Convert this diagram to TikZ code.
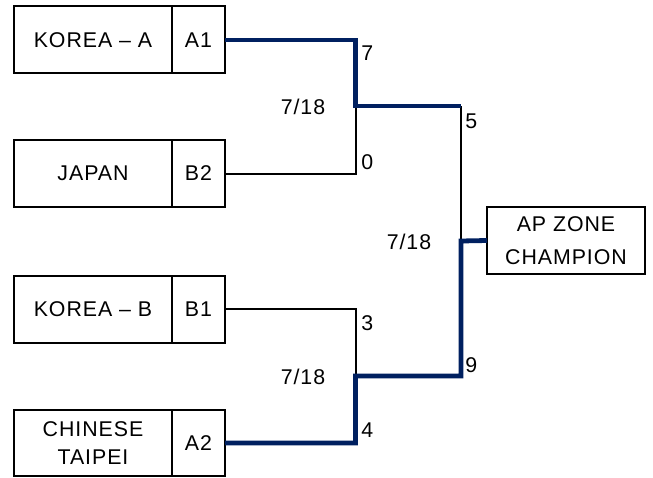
\documentclass[tikz,border=0pt]{standalone}
\usepackage{fontspec}
\setmainfont{Liberation Sans}[LetterSpace=4.5]
\definecolor{navy}{RGB}{0,32,96}
\tikzset{
  box/.style={draw, line width=1.5pt, inner sep=0pt, outer sep=0pt,
    minimum height=50.25pt, align=center, font=\fontsize{16}{21}\selectfont},
  namebox/.style={box, minimum width=118.5pt},
  seedbox/.style={box, minimum width=39.75pt},
  champbox/.style={box, minimum width=118.5pt, font=\fontsize{16}{25}\selectfont},
  thinline/.style={line width=1.5pt, black, line join=miter},
  winline/.style={line width=3.6pt, navy, line join=miter},
  score/.style={inner sep=0pt, anchor=west, font=\fontsize{16}{18}\selectfont},
  datelab/.style={inner sep=0pt, font=\fontsize{16}{18}\selectfont},
}
\begin{document}
\begin{tikzpicture}[x=0.75pt,y=-0.75pt]
\useasboundingbox (0,0) rectangle (653,478);
% team boxes
\node[namebox] (n1) at (93,40) {KOREA – A};
\node[seedbox] (s1) at (198.5,40) {A1};
\node[namebox] (n2) at (93,173.5) {JAPAN};
\node[seedbox] (s2) at (198.5,173.5) {B2};
\node[namebox] (n3) at (93,309) {KOREA – B};
\node[seedbox] (s3) at (198.5,309) {B1};
\node[namebox, minimum height=49.5pt] (n4) at (93,443) {CHINESE\\TAIPEI};
\node[seedbox, minimum height=49.5pt] (s4) at (198.5,443) {A2};
\node[champbox] (ch) at (566,240.5) {AP ZONE\\CHAMPION};
% junctions
\coordinate (m1) at (355.5,106);
\coordinate (q1) at (461,106);
\coordinate (m2) at (355.5,376);
\coordinate (q2) at (461,376);
\coordinate (f) at (461,241);
% thin connectors
\draw[thinline] (s2.east) -| (m1);
\draw[thinline] (s3.east) -| (m2);
\draw[thinline] (q1) -- (f);
% winning paths
\draw[winline] (s1.east) -| (m1) -- (q1);
\draw[winline] (ch.west) -- (f) -- (q2) -- (m2) |- (s4.east);
% scores
\node[score] (c7) at (361,53) {7};
\node[score] (c0) at (361,162) {0};
\node[score] (c5) at (465,121) {5};
\node[score] (c3) at (361,323) {3};
\node[score] (c9) at (465,365) {9};
\node[score] (c4) at (361,430) {4};
% dates
\node[datelab] (d1) at (303,107) {7/18};
\node[datelab] (d2) at (409,242) {7/18};
\node[datelab] (d3) at (303,377) {7/18};
\end{tikzpicture}
\end{document}
